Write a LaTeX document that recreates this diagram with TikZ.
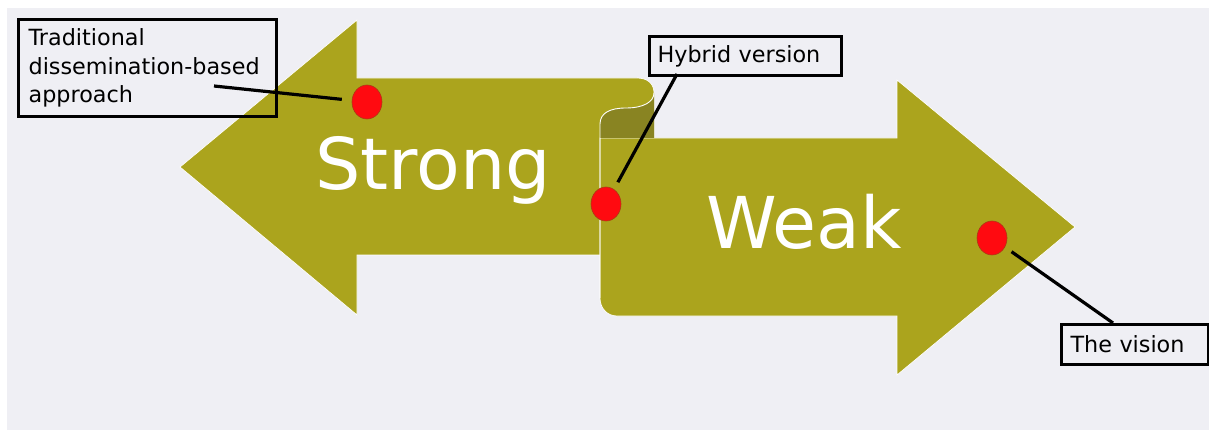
\documentclass[tikz,border=0pt]{standalone}
\usepackage{fontspec}
\setmainfont{DejaVu Sans}
\usetikzlibrary{shapes.geometric}
\definecolor{bgray}{RGB}{239,239,244}
\definecolor{olive}{RGB}{171,164,29}
\definecolor{darkolive}{RGB}{137,132,34}
\definecolor{dotred}{RGB}{255,10,16}
\definecolor{dotedge}{RGB}{170,60,20}
\tikzset{
  ribbon/.style={fill=olive, draw=white, line width=0.7pt, line join=miter},
  rolldark/.style={fill=darkolive},
  rolledge/.style={draw=white, line width=0.9pt},
  bigword/.style={text=white, font=\fontsize{71.5}{71.5}\selectfont, inner sep=0pt},
  dot/.style={ellipse, fill=dotred, draw=dotedge, line width=0.6pt, minimum width=30pt, minimum height=34pt, inner sep=0pt},
  labelbox/.style={draw=black, line width=3.2pt, anchor=north west, align=left, inner ysep=0pt, font=\fontsize{22.3}{28.5}\selectfont, text=black},
  lead/.style={draw=black, line width=3.2pt, shorten >=8pt}
}
\begin{document}
\begin{tikzpicture}[x=1pt,y=-1pt]
\useasboundingbox (0,0) rectangle (1209,430);
\fill[white] (0,0) rectangle (1209,430);
\fill[bgray] (7,8) rectangle (1209,430);
% Strong arrow (left)
\path[ribbon] (180,167) -- (357,20) -- (357,78) -- (637,78)
  .. controls (648,78) and (654,84) .. (654,93) -- (654,255) -- (357,255) -- (357,315) -- cycle;
% Weak arrow (right)
\path[ribbon] (600,138) -- (897,138) -- (897,80) -- (1075,227) -- (897,375) -- (897,316) -- (617,316)
  .. controls (607,316) and (600,308) .. (600,298) -- cycle;
% inside of the roll
\path[rolldark] (600,138) -- (600,124) .. controls (600,113) and (610,108) .. (626,108)
  .. controls (643,108) and (654,102) .. (654,93) -- (654,138) -- cycle;
\path[rolledge] (654,93) .. controls (654,102) and (643,108) .. (626,108)
  .. controls (610,108) and (600,113) .. (600,124) -- (600,298);
% words
\node[bigword, anchor=base west] (strong) at (315,190) {Strong};
\node[bigword, anchor=base west] (weak) at (706,248) {Weak};
% dots
\node[dot] (d1) at (367,102) {};
\node[dot] (d2) at (606,204) {};
\node[dot] (d3) at (992,238) {};
% label boxes
\node[labelbox, minimum width=258pt, minimum height=97pt, text width=238pt, inner xsep=10pt] (b1) at (17,18)
  {Traditional\\dissemination-based\\approach};
\node[labelbox, minimum width=192pt, minimum height=39pt, text width=176pt, inner xsep=8pt] (b2) at (648,35)
  {Hybrid version};
\node[labelbox, minimum width=147pt, minimum height=40pt, text width=129pt, inner xsep=9pt] (b3) at (1060,323)
  {The vision};
% leaders
\coordinate (l1) at (214,86);
\coordinate (l2) at (677,74);
\coordinate (l3) at (1113,323);
\draw[lead, shorten >=10pt] (l1) -- (d1);
\draw[lead] (l2) -- (d2);
\draw[lead] (l3) -- (d3);
\end{tikzpicture}
\end{document}
